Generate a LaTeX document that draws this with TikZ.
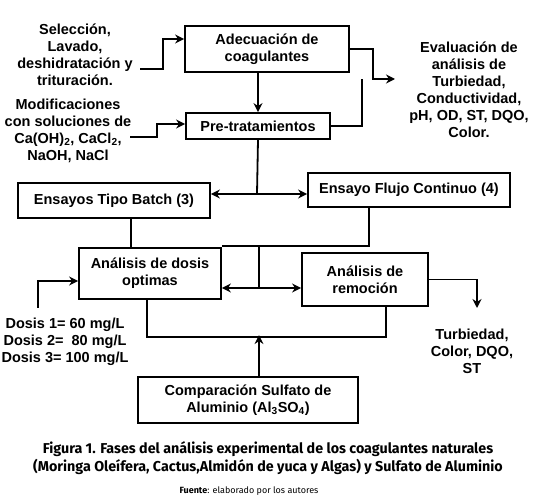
\documentclass[tikz,border=0pt]{standalone}
\usepackage{fontspec}
\setmainfont{Liberation Sans}
\newfontfamily\capfont{Fira Sans}
\usetikzlibrary{arrows.meta,calc}
\begin{document}
\begin{tikzpicture}[x=1pt,y=-1pt,
  txt/.style={align=center, inner sep=0pt, font=\bfseries\fontsize{14.5}{17}\selectfont},
  box/.style={txt, draw, line width=1.8pt},
  con/.style={line width=1.8pt},
  tip/.tip={Stealth[length=9pt,width=9pt,inset=3pt]},
  arr/.style={con, -tip},
  darr/.style={con, tip-tip}]
\useasboundingbox (0,0) rectangle (539,500);

% boxes
\node[box, minimum width=164pt, minimum height=46pt] (adec) at (267,49) {Adecuación de\\coagulantes};
\node[box, minimum width=144pt, minimum height=26pt] (pre) at (258,126) {Pre-tratamientos};
\node[box, minimum width=192pt, minimum height=35pt] (batch) at (114,200.5) {Ensayos Tipo Batch (3)};
\node[box, minimum width=202pt, minimum height=34pt] (flujo) at (409,190) {Ensayo Flujo Continuo (4)};
\node[box, minimum width=142pt, minimum height=51pt] (dosis) at (150,273.5) {Análisis de dosis\\optimas};
\node[box, minimum width=126pt, minimum height=53pt] (remo) at (365,279.5) {Análisis de\\remoción};
\node[box, minimum width=220pt, minimum height=46pt] (comp) at (248,400) {Comparación Sulfato de\\Aluminio (Al\textsubscript{3}SO\textsubscript{4})};

% free texts
\node[txt] (sel) at (75,55) {Selección,\\Lavado,\\deshidratación y\\trituración.};
\node[txt] (mod) at (68,131) {Modificaciones\\con soluciones de\\Ca(OH)\textsubscript{2}, CaCl\textsubscript{2},\\NaOH, NaCl};
\node[txt] (eval) at (469,90) {Evaluación de\\análisis de\\Turbiedad,\\Conductividad,\\pH, OD, ST, DQO,\\Color.};
\node[txt] (dtext) at (65,342) {Dosis 1= 60 mg/L\\Dosis 2= \ 80 mg/L\\Dosis 3= 100 mg/L};
\node[txt] (turb) at (472,351) {Turbiedad,\\Color, DQO,\\ST};

% caption
\node[align=center, inner sep=0pt, font=\capfont\bfseries\fontsize{14.3}{18}\selectfont] (cap) at (268,458)
  {Figura 1. Fases del análisis experimental de los coagulantes naturales\\(Moringa Oleífera, Cactus,Almidón de yuca y Algas) y Sulfato de Aluminio};
\node[inner sep=0pt, font=\capfont\fontsize{9}{11}\selectfont] (fuente) at (249,491) {\textbf{Fuente}: elaborado por los autores};

% connector end points
\coordinate (s1) at (140,69);
\coordinate (m1) at (130,137);
\coordinate (e1) at (395,79);
\coordinate (e2) at (362,79);
\coordinate (j1) at (257,194);
\coordinate (j2) at (259,288);
\coordinate (d1) at (38,308);
\coordinate (t1) at (477,308);

% connectors
\draw[arr] (s1) -- ++(23,0) |- ($(adec.west)+(0,-10)$);
\draw[arr] (m1) -- ++(27,0) |- ($(pre.west)+(0,-2)$);
\draw[arr] (pre.north |- adec.south) -- (pre.north);
\draw[arr] (adec.east) -- ++(23,0) |- (e1);
\draw[con] (pre.east) -| (e2);
\draw[con] (pre.south) -- (j1);
\draw[darr] (batch.east |- j1) -- (flujo.west |- j1);
\draw[con] ($(batch.south)+(17,0)$) coordinate (b1) -- (b1 |- dosis.north);
\draw[con] ($(flujo.south)+(-40,0)$) |- ($(dosis.north east)+(0,-1)$);
\draw[con] (j2 |- dosis.north) -- (j2);
\draw[darr] (dosis.east |- j2) -- (remo.west |- j2);
\draw[arr] (d1) |- ($(dosis.west)+(0,7.5)$);
\draw[con] ($(dosis.south)+(-3,0)$) -- ++(0,37) -| ($(remo.south)+(21,0)$);
\draw[arr] ($(comp.north)+(11,0)$) -- ++(0,-41);
\draw[arr] (remo.east) -| (t1);
\end{tikzpicture}
\end{document}
